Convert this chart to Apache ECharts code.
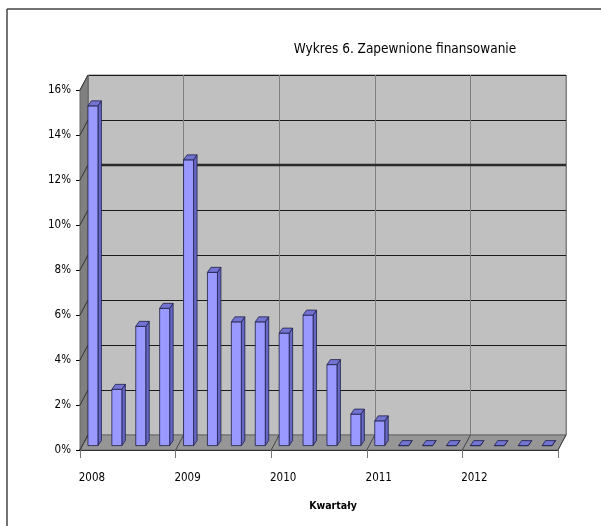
<!DOCTYPE html>
<html>
<head>
<meta charset="utf-8">
<script src="https://cdn.jsdelivr.net/npm/echarts@6/dist/echarts.min.js"></script>
<style>
  html, body { margin: 0; padding: 0; background: #fff; }
  #chart { width: 601px; height: 526px; }
</style>
</head>
<body>
<div id="chart"></div>
<script>
// dane: udział zapewnionego finansowania w kolejnych kwartałach
const years = ['2008', '2009', '2010', '2011', '2012'];
const quarterNames = ['I', 'II', 'III', 'IV'];
const shares = [
  0.151, 0.025, 0.053, 0.061,
  0.127, 0.077, 0.055, 0.055,
  0.050, 0.058, 0.036, 0.014,
  0.011, 0, 0, 0,
  0, 0, 0, 0
];
const yTicks = [0, 0.02, 0.04, 0.06, 0.08, 0.10, 0.12, 0.14, 0.16];

const quarters = [];
years.forEach(y => quarterNames.forEach(q => quarters.push(q + ' ' + y)));

const FONT = "'Liberation Sans Narrow', 'DejaVu Sans Condensed', 'Arial Narrow', sans-serif";
const DX = 8, DY = -15;      // głębokość ścian
const BDX = 3.5, BDY = -5;   // głębokość słupków

const chart = echarts.init(document.getElementById('chart'));

// ściana boczna i podłoga wykresu 3D
function renderWalls(params, api) {
  const cs = params.coordSys;
  const x0 = cs.x, x1 = cs.x + cs.width;
  const yt = cs.y, yb = cs.y + cs.height;
  const kids = [];
  kids.push({
    type: 'polygon',
    shape: { points: [[x0 - DX, yt - DY], [x0, yt], [x0, yb], [x0 - DX, yb - DY]] },
    style: { fill: '#808080', stroke: '#666', lineWidth: 1 }
  });
  kids.push({
    type: 'polygon',
    shape: { points: [[x0 - DX, yb - DY], [x0, yb], [x1, yb], [x1 - DX, yb - DY]] },
    style: { fill: '#969696', stroke: '#666', lineWidth: 1 }
  });
  // skośne kreski na ścianie bocznej
  yTicks.forEach(t => {
    const y = api.coord([0, t])[1];
    kids.push({
      type: 'line',
      shape: { x1: x0 - DX, y1: y - DY, x2: x0, y2: y },
      style: { stroke: '#333', lineWidth: 1 }
    });
  });
  // skośne kreski na podłodze przy granicach lat
  const step = cs.width / quarters.length;
  for (let i = 0; i <= quarters.length; i += 4) {
    const x = x0 + i * step;
    kids.push({
      type: 'line',
      shape: { x1: x - DX, y1: yb - DY, x2: x, y2: yb },
      style: { stroke: '#444', lineWidth: 1 }
    });
  }
  // pogrubiona linia 12%
  const y12 = api.coord([0, 0.12])[1];
  kids.push({
    type: 'line',
    shape: { x1: x0, y1: y12, x2: x1, y2: y12 },
    style: { stroke: '#2a2a2a', lineWidth: 2.5 }
  });
  return { type: 'group', children: kids };
}

function renderBar(params, api) {
  const idx = api.value(0);
  const top = api.coord([idx, api.value(1)]);
  const base = api.coord([idx, 0]);
  const half = 5;
  const xa = top[0] - half, xb = top[0] + half;
  const yt = top[1], yb = base[1];
  const stroke = { stroke: '#20204a', lineWidth: 0.8 };
  return {
    type: 'group',
    children: [
      {
        type: 'polygon',
        shape: { points: [[xb, yb], [xb, yt], [xb + BDX, yt + BDY], [xb + BDX, yb + BDY]] },
        style: Object.assign({ fill: '#6666c4' }, stroke)
      },
      {
        type: 'rect',
        shape: { x: xa, y: yt, width: xb - xa, height: yb - yt },
        style: Object.assign({ fill: '#9999ff' }, stroke)
      },
      {
        type: 'polygon',
        shape: { points: [[xa, yt], [xb, yt], [xb + BDX, yt + BDY], [xa + BDX, yt + BDY]] },
        style: Object.assign({ fill: '#7373d2' }, stroke)
      }
    ]
  };
}

const option = {
  animation: false,
  backgroundColor: '#fff',
  title: [
    {
      text: 'Wykres 6. Zapewnione finansowanie',
      left: 400, top: 37, textAlign: 'center',
      textStyle: { fontFamily: FONT, fontSize: 13.5, fontWeight: 'normal', color: '#000' }
    },
    {
      text: 'Kwartały',
      left: 328, top: 496, textAlign: 'center',
      textStyle: { fontFamily: FONT, fontSize: 10.5, fontWeight: 'bold', color: '#000' }
    }
  ],
  graphic: [
    { type: 'line', shape: { x1: 7, y1: 9, x2: 601, y2: 9 }, style: { stroke: '#444', lineWidth: 1.5 } },
    { type: 'line', shape: { x1: 7, y1: 9, x2: 7, y2: 526 }, style: { stroke: '#444', lineWidth: 1.5 } }
  ],
  grid: [
    // tylna ściana
    { left: 88, top: 75, width: 478, height: 360, show: true, backgroundColor: '#c0c0c0',
      borderColor: '#808080', borderWidth: 1 },
    // przednia oś
    { left: 80, top: 90, width: 478, height: 360 },
    // słupki
    { left: 81, top: 85.6, width: 478, height: 360 }
  ],
  xAxis: [
    {
      gridIndex: 0, type: 'category', data: quarters,
      axisLine: { show: false }, axisTick: { show: false }, axisLabel: { show: false },
      splitLine: { show: true, interval: i => i % 4 === 0, lineStyle: { color: '#808080', width: 1 } }
    },
    {
      gridIndex: 1, type: 'category', data: quarters,
      axisLine: { show: true, lineStyle: { color: '#000', width: 2 } },
      axisTick: { show: true, interval: i => i % 4 === 0, length: 8, lineStyle: { color: '#777' } },
      axisLabel: {
        interval: i => i % 4 === 0,
        formatter: v => v.split(' ')[1],
        margin: 22,
        fontFamily: FONT, fontSize: 11.5, color: '#000'
      },
      splitLine: { show: false }
    },
    { gridIndex: 2, type: 'category', data: quarters, show: false }
  ],
  yAxis: [
    {
      gridIndex: 0, type: 'value', min: 0, max: 0.16, interval: 0.02,
      axisLine: { show: false }, axisTick: { show: false }, axisLabel: { show: false },
      splitLine: { show: true, lineStyle: { color: '#1a1a1a', width: 1 } }
    },
    {
      gridIndex: 1, type: 'value', min: 0, max: 0.16, interval: 0.02,
      axisLine: { show: true, lineStyle: { color: '#333', width: 1 } },
      axisTick: { show: true, length: 4, lineStyle: { color: '#000' } },
      axisLabel: {
        formatter: v => Math.round(v * 100) + '%',
        margin: 9,
        fontFamily: FONT, fontSize: 11.5, color: '#000'
      },
      splitLine: { show: false }
    },
    { gridIndex: 2, type: 'value', min: 0, max: 0.16, show: false }
  ],
  series: [
    {
      type: 'custom', xAxisIndex: 0, yAxisIndex: 0,
      renderItem: renderWalls, data: [[0, 0]], z: 1, silent: true
    },
    {
      type: 'custom', xAxisIndex: 2, yAxisIndex: 2,
      renderItem: renderBar,
      data: shares.map((v, i) => [i, v]),
      z: 5
    }
  ]
};

chart.setOption(option);
</script>
</body>
</html>
